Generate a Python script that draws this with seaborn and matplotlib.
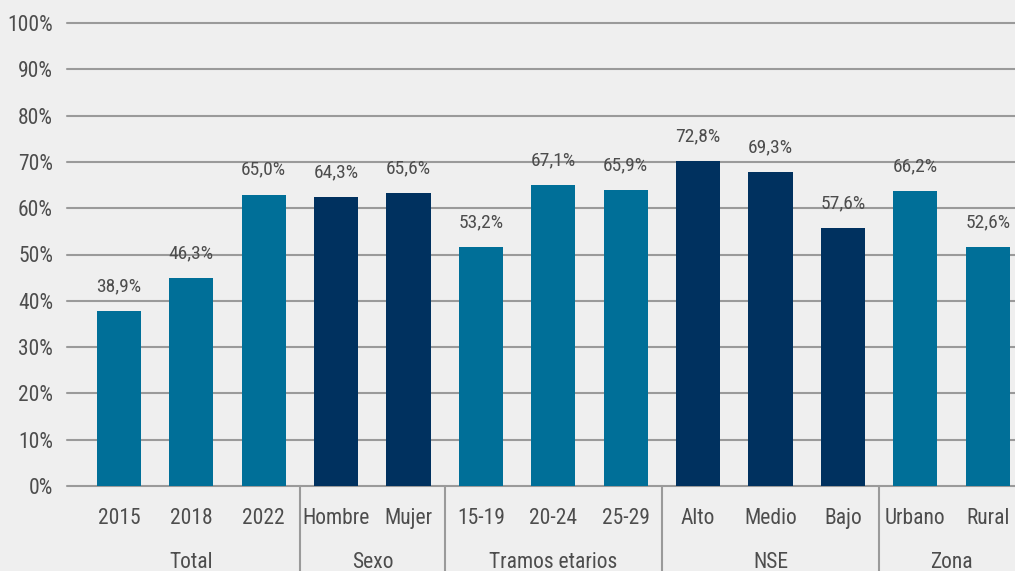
import matplotlib
matplotlib.use("Agg")
import matplotlib.pyplot as plt
import matplotlib.transforms as mtransforms
import seaborn as sns
import pandas as pd

# ---- data ----
categories = ["2015", "2018", "2022", "Hombre", "Mujer", "15-19", "20-24", "25-29",
              "Alto", "Medio", "Bajo", "Urbano", "Rural"]
bar_heights = [37.8, 44.9, 62.9, 62.4, 63.3, 51.6, 65.0, 63.9, 70.2, 67.8, 55.7, 63.7, 51.6]
value_labels = ["38,9%", "46,3%", "65,0%", "64,3%", "65,6%", "53,2%", "67,1%", "65,9%",
                "72,8%", "69,3%", "57,6%", "66,2%", "52,6%"]
groups = ["Total", "Sexo", "Tramos etarios", "NSE", "Zona"]
group_sizes = [3, 2, 3, 3, 2]
group_shade = ["teal", "navy", "teal", "navy", "teal"]
y_ticks = [0, 10, 20, 30, 40, 50, 60, 70, 80, 90, 100]
y_tick_labels = ["0%", "10%", "20%", "30%", "40%", "50%", "60%", "70%", "80%", "90%", "100%"]

TEAL = "#006f98"
NAVY = "#00315f"
BG = "#efefef"
GRID = "#9a9a9a"
TXT = "#4d4d4d"

shade = []
for g, n, s in zip(groups, group_sizes, group_shade):
    shade += [s] * n
df = pd.DataFrame({"cat": categories, "val": bar_heights, "shade": shade})

sns.set_theme(style="white")
plt.rcParams["font.family"] = ["Roboto Condensed", "Liberation Sans Narrow", "DejaVu Sans"]
plt.rcParams["font.stretch"] = "condensed"

fig = plt.figure(figsize=(10.15, 5.71), dpi=100, facecolor=BG)
ax = fig.add_axes([67 / 1015, 85 / 571, 948 / 1015, 463 / 571])
ax.set_facecolor(BG)

sns.barplot(data=df, x="cat", y="val", hue="shade", palette={"teal": TEAL, "navy": NAVY},
            dodge=False, width=0.61, legend=False, ax=ax, zorder=3, saturation=1,
            linewidth=0)

ax.set_ylim(0, 100)
ax.set_xlim(-0.718, 12.376)
for s in ax.spines.values():
    s.set_visible(False)

for t in y_ticks:
    ax.axhline(t, color=GRID, lw=1.5, zorder=1, clip_on=False)

ax.set_yticks(y_ticks)
ax.set_yticklabels(y_tick_labels)
ax.tick_params(axis="y", length=0, pad=10, labelsize=15.5, labelcolor=TXT)
ax.set_xticks(range(len(categories)))
ax.set_xticklabels(categories)
ax.tick_params(axis="x", length=0, pad=15.5, labelsize=15.5, labelcolor=TXT)
ax.set_xlabel("")
ax.set_ylabel("")

for i, (h, lab) in enumerate(zip(bar_heights, value_labels)):
    ax.annotate(lab, (i, h), xytext=(0, 25), textcoords="offset pixels",
                ha="center", va="center", fontsize=14, color=TXT)

trans = mtransforms.blended_transform_factory(ax.transData, ax.transAxes)
start = 0
for gi, (g, n) in enumerate(zip(groups, group_sizes)):
    center = start + (n - 1) / 2
    ax.text(center, -0.165, g, transform=trans, ha="center", va="center",
            fontsize=15.5, color=TXT, clip_on=False)
    end = start + n - 0.5
    if gi < len(groups) - 1:
        ax.plot([end, end], [0, -0.25], transform=trans, color=GRID, lw=1.5, clip_on=False)
    start += n

fig.savefig("out.png", dpi=100, facecolor=BG)
